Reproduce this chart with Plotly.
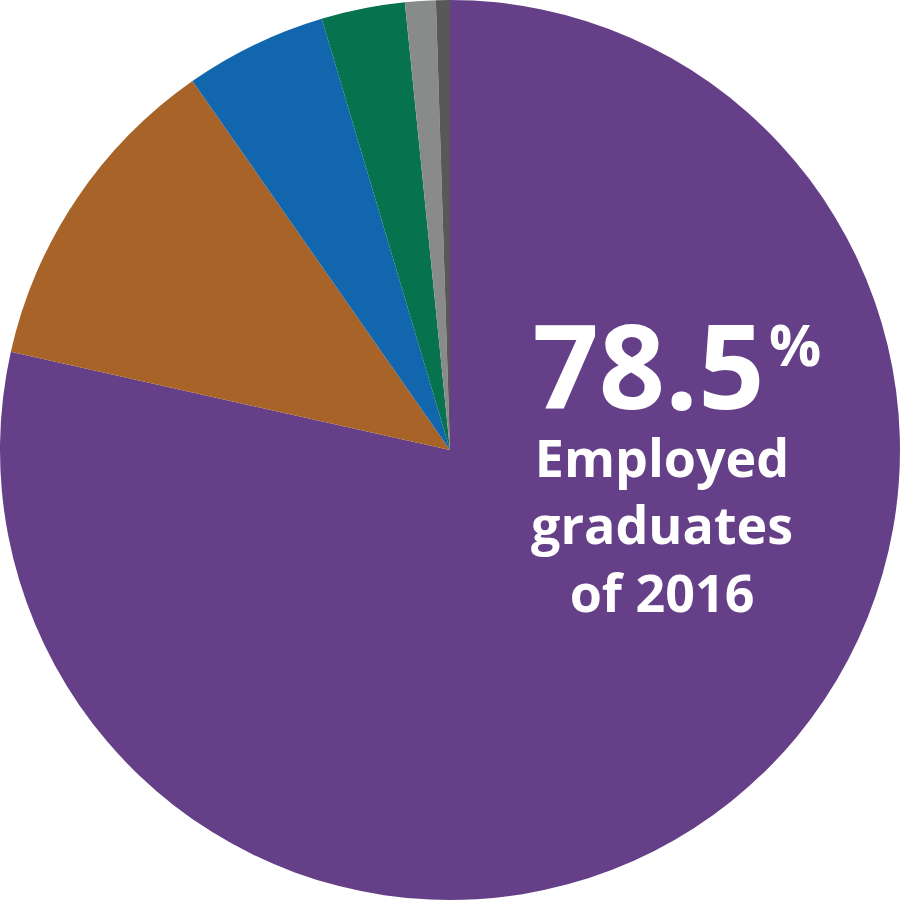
import plotly.graph_objects as go

# share of 2016 graduates by outcome (clockwise from 12 o'clock)
labels = ["Employed", "Further study", "Seeking work", "Other", "Not available", "Unknown"]
shares = [78.5, 11.8, 5.1, 3.0, 1.1, 0.5]
colors = ["#654088", "#A86328", "#1166AD", "#07724E", "#898B8A", "#58585A"]

headline = "78.5"
caption_lines = ["Employed", "graduates", "of 2016"]

fig = go.Figure(go.Pie(
    labels=labels,
    values=shares,
    sort=False,
    direction="clockwise",
    rotation=0,
    marker=dict(colors=colors, line=dict(width=0)),
    textinfo="none",
    hoverinfo="label+percent",
    domain=dict(x=[0, 1], y=[0, 1]),
    showlegend=False,
))

font_main = "Open Sans, Arial, sans-serif"

# headline + caption as one text block; the padding nudges the big number left
block = ("<span style='font-size:116px'><b>" + headline + "</b></span>"
         + "&nbsp;&nbsp;<br><b>" + "</b><br><b>".join(caption_lines) + "</b>")

annotations = [
    dict(text=block, x=662 / 900, y=1 - 456 / 900, align="center",
         font=dict(size=52, color="white", family=font_main)),
    dict(text="<b>%</b>", x=795 / 900, y=1 - 343 / 900,
         font=dict(size=58, color="white", family=font_main)),
]

for a in annotations:
    a.update(xref="paper", yref="paper", xanchor="center", yanchor="middle",
             showarrow=False)

fig.update_layout(
    width=900,
    height=900,
    margin=dict(l=0, r=0, t=0, b=0),
    paper_bgcolor="white",
    plot_bgcolor="white",
    annotations=annotations,
)

# the page body has a default 8px margin; drop it so the pie fills the window
fig.write_html("out.html", config={"displayModeBar": False},
               post_script="document.body.style.margin='0';")
